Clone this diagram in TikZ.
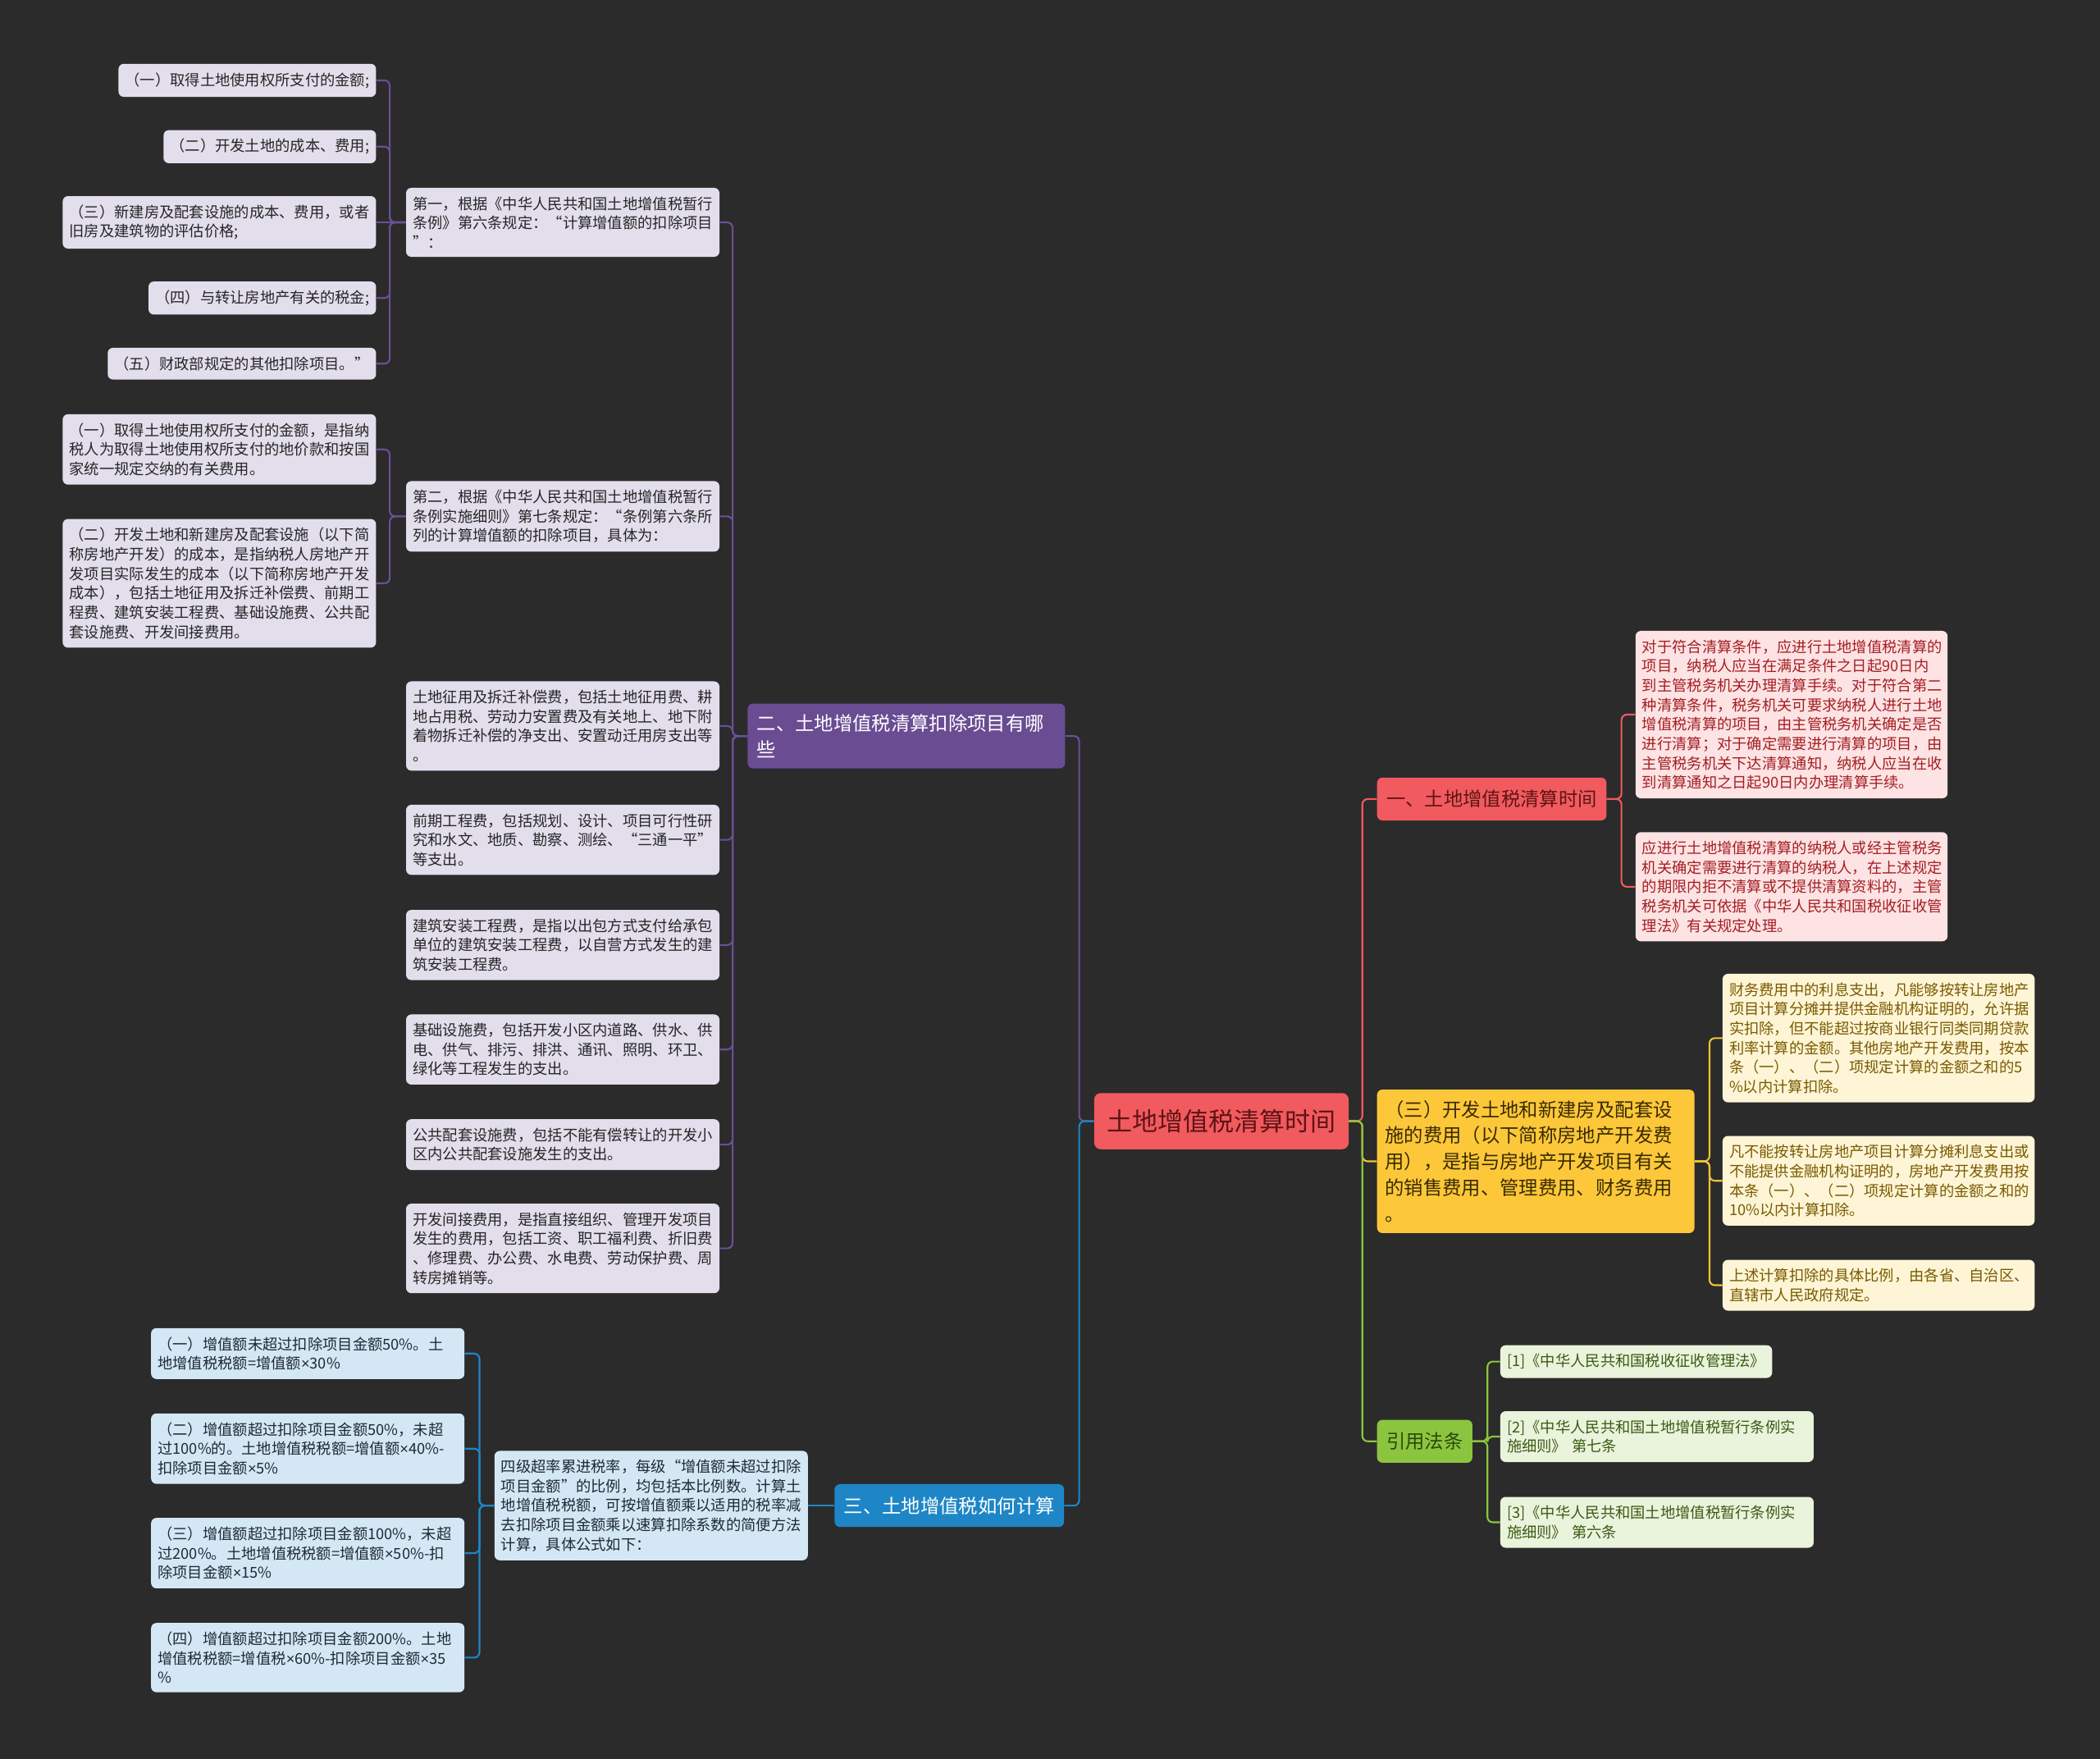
\documentclass[tikz,border=0pt]{standalone}
\usepackage{fontspec}
\setmainfont{Noto Sans CJK SC}
\newfontfamily\latf{Liberation Sans}
\newcommand\mytimes{{\latf ×}}
\definecolor{bg}{HTML}{2B2B2B}
\definecolor{lavFill}{HTML}{E2DEEC}
\definecolor{lavText}{HTML}{262626}
\definecolor{purMain}{HTML}{6A4C93}
\definecolor{purLine}{HTML}{6B4F97}
\definecolor{bluMain}{HTML}{1E86C6}
\definecolor{bluFill}{HTML}{D4E7F5}
\definecolor{bluText}{HTML}{1F2A36}
\definecolor{redMain}{HTML}{F15A5E}
\definecolor{redText}{HTML}{5E1416}
\definecolor{pinkFill}{HTML}{FDE3E3}
\definecolor{pinkText}{HTML}{A41E24}
\definecolor{yelMain}{HTML}{FCC83A}
\definecolor{yelLine}{HTML}{F3C23A}
\definecolor{yelText}{HTML}{3A2A00}
\definecolor{creFill}{HTML}{FDF5D6}
\definecolor{creText}{HTML}{7A5A00}
\definecolor{grnMain}{HTML}{8BC53F}
\definecolor{grnText}{HTML}{2B4A0A}
\definecolor{grnFill}{HTML}{EAF3DC}
\definecolor{grnText2}{HTML}{3B5A14}
\tikzset{
  box/.style={rounded corners=4pt, inner xsep=5pt, inner ysep=6.5pt,
    font=\fontsize{11.2pt}{14.5pt}\selectfont, align=left},
  lav/.style={box, fill=lavFill, text=lavText},
  lavw/.style={lav, text width=224pt},
  blu/.style={box, fill=bluFill, text=bluText},
  bluw/.style={blu, text width=224pt},
  pink/.style={box, fill=pinkFill, text=pinkText, text width=223pt},
  cre/.style={box, fill=creFill, text=creText, text width=223pt},
  grn/.style={box, fill=grnFill, text=grnText2},
  grnw/.style={grn, text width=224pt},
  mainbox/.style={rounded corners=4pt, inner xsep=7pt, inner ysep=8pt,
    font=\fontsize{14.3pt}{19.5pt}\selectfont, align=left, minimum height=32pt},
  rootbox/.style={rounded corners=5pt, fill=redMain, text=redText, inner xsep=9.5pt,
    minimum height=42pt, font=\fontsize{19pt}{23pt}\selectfont},
  conn/.style={line width=1.3pt, rounded corners=4pt},
}
\begin{document}
\begin{tikzpicture}[x=1pt,y=-1pt]
\fill[bg] (0,0) rectangle (1568,1313);
\useasboundingbox (0,0) rectangle (1568,1313);

% root
\node[rootbox] (root) at (912,837) {土地增值税清算时间};

% branch two (purple)
\node[mainbox, fill=purMain, text=white, text width=223pt, anchor=west] (er) at (558,549.5) {二、土地增值税清算扣除项目有哪\\些};
\node[lavw, anchor=west] (d1) at (303,166) {第一，根据《中华人民共和国土地增值税暂行\\条例》第六条规定：“计算增值额的扣除项目\\”：};
\node[lavw, anchor=west] (d2) at (303,385.5) {第二，根据《中华人民共和国土地增值税暂行\\条例实施细则》第七条规定：“条例第六条所\\列的计算增值额的扣除项目，具体为：};
\node[lavw, anchor=west] (d3) at (303,542) {土地征用及拆迁补偿费，包括土地征用费、耕\\地占用税、劳动力安置费及有关地上、地下附\\着物拆迁补偿的净支出、安置动迁用房支出等\\。};
\node[lavw, anchor=west] (d4) at (303,627) {前期工程费，包括规划、设计、项目可行性研\\究和水文、地质、勘察、测绘、“三通一平”\\等支出。};
\node[lavw, anchor=west] (d5) at (303,705.5) {建筑安装工程费，是指以出包方式支付给承包\\单位的建筑安装工程费，以自营方式发生的建\\筑安装工程费。};
\node[lavw, anchor=west] (d6) at (303,783.5) {基础设施费，包括开发小区内道路、供水、供\\电、供气、排污、排洪、通讯、照明、环卫、\\绿化等工程发生的支出。};
\node[lavw, anchor=west] (d7) at (303,854.5) {公共配套设施费，包括不能有偿转让的开发小\\区内公共配套设施发生的支出。};
\node[lavw, anchor=west] (d8) at (303,932) {开发间接费用，是指直接组织、管理开发项目\\发生的费用，包括工资、职工福利费、折旧费\\、修理费、办公费、水电费、劳动保护费、周\\转房摊销等。};

\node[lav, anchor=east] (a1) at (281,60) {（一）取得土地使用权所支付的金额;};
\node[lav, anchor=east] (a2) at (281,109.5) {（二）开发土地的成本、费用;};
\node[lavw, anchor=east] (a3) at (281,166) {（三）新建房及配套设施的成本、费用，或者\\旧房及建筑物的评估价格;};
\node[lav, anchor=east] (a4) at (281,222.5) {（四）与转让房地产有关的税金;};
\node[lav, anchor=east] (a5) at (281,271.5) {（五）财政部规定的其他扣除项目。”};
\node[lavw, anchor=east] (b1) at (281,335.5) {（一）取得土地使用权所支付的金额，是指纳\\税人为取得土地使用权所支付的地价款和按国\\家统一规定交纳的有关费用。};
\node[lavw, anchor=east] (b2) at (281,435.5) {（二）开发土地和新建房及配套设施（以下简\\称房地产开发）的成本，是指纳税人房地产开\\发项目实际发生的成本（以下简称房地产开发\\成本），包括土地征用及拆迁补偿费、前期工\\程费、建筑安装工程费、基础设施费、公共配\\套设施费、开发间接费用。};

% branch three (blue)
\node[mainbox, fill=bluMain, text=white, anchor=west] (san) at (623,1124) {三、土地增值税如何计算};
\node[bluw, anchor=west] (sj) at (369,1124) {四级超率累进税率，每级“增值额未超过扣除\\项目金额”的比例，均包括本比例数。计算土\\地增值税税额，可按增值额乘以适用的税率减\\去扣除项目金额乘以速算扣除系数的简便方法\\计算，具体公式如下：};
\node[bluw, anchor=east] (f1) at (347,1010.5) {（一）增值额未超过扣除项目金额50\%。土\\地增值税税额=增值额\mytimes30\%};
\node[bluw, anchor=east] (f2) at (347,1081.5) {（二）增值额超过扣除项目金额50\%，未超\\\mbox{过100\%的。土地增值税税额=增值额\mytimes40\%-}\\扣除项目金额\mytimes5\%};
\node[bluw, anchor=east] (f3) at (347,1159.5) {（三）增值额超过扣除项目金额100\%，未超\\\mbox{过200\%。土地增值税税额=增值额\mytimes50\%-扣}\\除项目金额\mytimes15\%};
\node[bluw, anchor=east] (f4) at (347,1237.5) {（四）增值额超过扣除项目金额200\%。土地\\\mbox{增值税税额=增值税\mytimes60\%-扣除项目金额\mytimes35}\\\%};

% branch one (red)
\node[mainbox, fill=redMain, text=redText, anchor=west] (yi) at (1028,596.5) {一、土地增值税清算时间};
\node[pink, anchor=west] (p1) at (1221,533.5) {对于符合清算条件，应进行土地增值税清算的\\项目，纳税人应当在满足条件之日起90日内\\到主管税务机关办理清算手续。对于符合第二\\种清算条件，税务机关可要求纳税人进行土地\\增值税清算的项目，由主管税务机关确定是否\\进行清算；对于确定需要进行清算的项目，由\\主管税务机关下达清算通知，纳税人应当在收\\到清算通知之日起90日内办理清算手续。};
\node[pink, anchor=west] (p2) at (1221,662) {应进行土地增值税清算的纳税人或经主管税务\\机关确定需要进行清算的纳税人，在上述规定\\的期限内拒不清算或不提供清算资料的，主管\\税务机关可依据《中华人民共和国税收征收管\\理法》有关规定处理。};

% yellow branch
\node[mainbox, fill=yelMain, text=yelText, text width=225pt, inner xsep=6pt, anchor=west] (ys) at (1028,867) {（三）开发土地和新建房及配套设\\施的费用（以下简称房地产开发费\\用），是指与房地产开发项目有关\\的销售费用、管理费用、财务费用\\。};
\node[cre, anchor=west] (c1) at (1286,775) {财务费用中的利息支出，凡能够按转让房地产\\项目计算分摊并提供金融机构证明的，允许据\\实扣除，但不能超过按商业银行同类同期贷款\\利率计算的金额。其他房地产开发费用，按本\\条（一）、（二）项规定计算的金额之和的5\\\%以内计算扣除。};
\node[cre, anchor=west] (c2) at (1286,881.5) {凡不能按转让房地产项目计算分摊利息支出或\\不能提供金融机构证明的，房地产开发费用按\\本条（一）、（二）项规定计算的金额之和的\\10\%以内计算扣除。};
\node[cre, anchor=west] (c3) at (1286,959.5) {上述计算扣除的具体比例，由各省、自治区、\\直辖市人民政府规定。};

% green branch
\node[mainbox, fill=grnMain, text=grnText, anchor=west] (yin) at (1028,1076) {引用法条};
\node[grn, anchor=west] (g1) at (1120,1016.5) {[1]《中华人民共和国税收征收管理法》};
\node[grnw, anchor=west] (g2) at (1120,1072.5) {[2]《中华人民共和国土地增值税暂行条例实\\施细则》 第七条};
\node[grnw, anchor=west] (g3) at (1120,1136.5) {[3]《中华人民共和国土地增值税暂行条例实\\施细则》 第六条};

% connectors: root
\draw[conn, purLine] (root.west) -- ++(-11,0) |- (er.east);
\draw[conn, bluMain] (root.west) -- ++(-11,0) |- (san.east);
\draw[conn, redMain] (root.east) -- ++(10,0) |- (yi.west);
\draw[conn, yelLine] (root.east) -- ++(10,0) |- (ys.west);
\draw[conn, grnMain] (root.east) -- ++(10,0) |- (yin.west);

% branch two
\foreach \c in {d1,d2,d3,d4,d5,d6,d7,d8}
  \draw[conn, purLine] (er.west) -- ++(-11,0) |- (\c.east);
\foreach \c in {a1,a2,a4,a5}
  \draw[conn, purLine] (d1.west) -- ++(-12,0) |- (\c.east);
\draw[conn, purLine] (d1.west) -- (a3.east);
\foreach \c in {b1,b2}
  \draw[conn, purLine] (d2.west) -- ++(-12,0) |- (\c.east);

% branch three
\draw[conn, bluMain] (san.west) -- (sj.east);
\foreach \c in {f1,f2,f3,f4}
  \draw[conn, bluMain] (sj.west) -- ++(-11,0) |- (\c.east);

% branch one
\foreach \c in {p1,p2}
  \draw[conn, redMain] (yi.east) -- ++(11,0) |- (\c.west);
\foreach \c in {c1,c2,c3}
  \draw[conn, yelLine] (ys.east) -- ++(11,0) |- (\c.west);
\foreach \c in {g1,g2,g3}
  \draw[conn, grnMain] (yin.east) -- ++(11,0) |- (\c.west);
\end{tikzpicture}
\end{document}
